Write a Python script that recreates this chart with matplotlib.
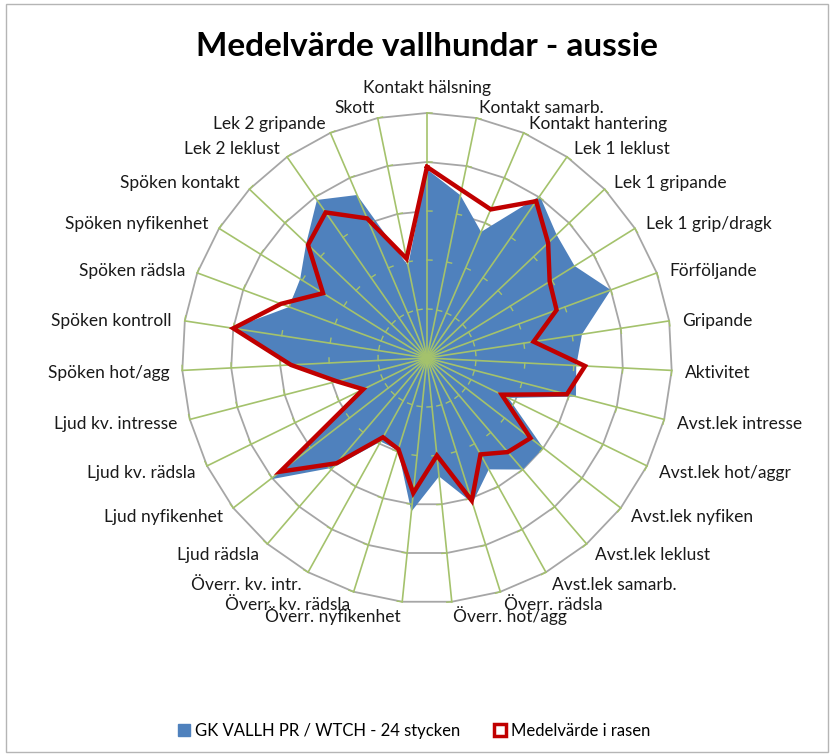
import numpy as np
import matplotlib
matplotlib.use("Agg")
import matplotlib.pyplot as plt
from matplotlib.patches import Patch, Rectangle

plt.rcParams['font.family'] = ['Lato', 'DejaVu Sans']

# categories, clockwise from the top
categories = ["Kontakt hälsning", "Kontakt samarb.", "Kontakt hantering",
              "Lek 1 leklust", "Lek 1 gripande", "Lek 1 grip/dragk",
              "Förföljande", "Gripande", "Aktivitet", "Avst.lek intresse",
              "Avst.lek hot/aggr", "Avst.lek nyfiken", "Avst.lek leklust",
              "Avst.lek samarb.", "Överr. rädsla", "Överr. hot/agg",
              "Överr. nyfikenhet", "Överr. kv. rädsla", "Överr. kv. intr.",
              "Ljud rädsla", "Ljud nyfikenhet", "Ljud kv. rädsla",
              "Ljud kv. intresse", "Spöken hot/agg", "Spöken kontroll",
              "Spöken rädsla", "Spöken nyfikenhet", "Spöken kontakt",
              "Lek 2 leklust", "Lek 2 gripande", "Skott"]

gk_vallh = [3.85, 3.39, 2.80, 4.03, 3.65, 3.55, 4.00, 3.20, 3.05, 3.14,
            1.85, 3.00, 3.00, 2.60, 3.10, 2.43, 3.15, 1.97, 1.95, 2.95,
            4.05, 1.40, 1.95, 2.80, 4.02, 3.00, 3.05, 3.40, 3.93, 3.62, 1.92]
medel_rasen = [3.90, 3.50, 3.30, 3.90, 3.41, 2.95, 2.82, 2.20, 3.23, 2.95,
               1.70, 2.67, 2.53, 2.25, 3.05, 2.00, 2.77, 1.95, 1.85, 2.83,
               3.79, 1.45, 1.90, 2.78, 4.00, 3.18, 2.50, 3.35, 3.62, 3.10, 2.07]
rings = [1, 2, 3, 4, 5]

title = "Medelvärde vallhundar - aussie"
name_a = "GK VALLH PR / WTCH - 24 stycken"
name_b = "Medelvärde i rasen"

blue = '#4f81bd'
red = '#c00000'
green = '#a4c26c'
grey = '#a6a6a6'

n = len(categories)
theta = np.arange(n) * 2 * np.pi / n
theta_c = np.append(theta, theta[0])

fig = plt.figure(figsize=(8.34, 7.56), dpi=100)
W, H = 834, 756
cx, cy, R = 427, 358, 245
ax = fig.add_axes([(cx - R) / W, (H - cy - R) / H, 2 * R / W, 2 * R / H],
                  projection='polar')
ax.set_theta_zero_location('N')
ax.set_theta_direction(-1)
ax.set_ylim(0, 5)
ax.grid(False)
ax.set_xticks([])
ax.set_yticks([])
ax.spines['polar'].set_visible(False)
ax.patch.set_visible(False)

# polygon rings
for k in rings:
    ax.plot(theta_c, [k] * (n + 1), color=grey, lw=1.3, zorder=1, clip_on=False)

# series A filled
ax.fill(theta_c, np.append(gk_vallh, gk_vallh[0]), color=blue, zorder=2, lw=0)

# spokes + small tick marks
for t in theta:
    ax.plot([t, t], [0, 5], color=green, lw=1.2, zorder=3, clip_on=False)
    for k in rings:
        ax.plot([t, t + 5.0 / (R / 5 * k)], [k, k], color=green, lw=1.0,
                zorder=3, clip_on=False)

# series B line
ax.plot(theta_c, np.append(medel_rasen, medel_rasen[0]), color=red, lw=3.2,
        zorder=4, solid_joinstyle='miter', clip_on=False)

# category labels
for i, (t, lab) in enumerate(zip(theta, categories)):
    sx, cyv = np.sin(t), np.cos(t)
    if i == 0:
        ha, off = 'center', (0, 25)
    else:
        ha = 'left' if sx > 0 else 'right'
        off = (13 * sx, 12 * cyv - 2)
    ax.annotate(lab, xy=(t, 5), xytext=off, textcoords='offset pixels',
                ha=ha, va='center', fontsize=12.5, color='#1a1a1a',
                annotation_clip=False)

fig.text(cx / W, 1 - 47 / H, title, ha='center', va='center',
         fontsize=24, fontweight='bold', color='black')

handles = [Patch(facecolor=blue, edgecolor=blue),
           Patch(facecolor='white', edgecolor=red, linewidth=2.5)]
fig.legend(handles, [name_a, name_b], loc='center', ncol=2,
           bbox_to_anchor=(414 / W, 1 - 731 / H), frameon=False,
           fontsize=12, handlelength=0.75, handleheight=0.75,
           handletextpad=0.3, columnspacing=2.0)

fig.add_artist(Rectangle((6 / W, 4 / H), 822 / W, 748 / H, transform=fig.transFigure,
                         fill=False, edgecolor='#b5b5b5', lw=1.0))

fig.savefig("out.png", dpi=100, facecolor='white')
